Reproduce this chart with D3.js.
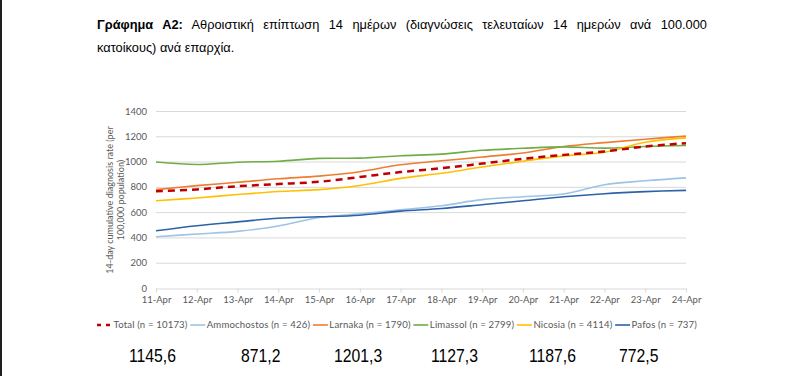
<!DOCTYPE html>
<html lang="el">
<head>
<meta charset="UTF-8">
<title>Γράφημα Α2</title>
<script src="https://d3js.org/d3.v7.min.js"></script>
<style>
  body { margin: 0; background: #fff; }
  svg { display: block; }
</style>
</head>
<body>
<svg width="801" height="376"></svg>
<script>
// dates on the x axis
const dates = ["11-Apr", "12-Apr", "13-Apr", "14-Apr", "15-Apr", "16-Apr", "17-Apr",
               "18-Apr", "19-Apr", "20-Apr", "21-Apr", "22-Apr", "23-Apr", "24-Apr"];

// 14-day cumulative rate per district
const total       = [765, 780, 805, 822, 840, 878, 917, 947, 984, 1022, 1053, 1080, 1119, 1145.6];
const ammochostos = [405, 427, 448, 491, 557, 587, 619, 651, 699, 722, 743, 817, 848, 871.2];
const larnaka     = [778, 810, 836, 864, 885, 920, 975, 1006, 1036, 1068, 1119, 1150, 1177, 1201.3];
const limassol    = [996, 977, 995, 1003, 1025, 1027, 1046, 1059, 1089, 1105, 1116, 1106, 1119, 1127.3];
const nicosia     = [690, 712, 739, 763, 778, 811, 867, 907, 957, 1003, 1045, 1074, 1153, 1187.6];
const pafos       = [453, 493, 523, 552, 563, 576, 608, 629, 659, 690, 722, 746, 762, 772.5];

const seriesNames = ["Total (n = 10173)", "Ammochostos (n = 426)", "Larnaka (n = 1790)",
                     "Limassol (n = 2799)", "Nicosia (n = 4114)", "Pafos (n = 737)"];
const yTicks = [0, 200, 400, 600, 800, 1000, 1200, 1400];
const lastValues = ["1145,6", "871,2", "1201,3", "1127,3", "1187,6", "772,5"];

const series = [
  { name: seriesNames[0], values: total,       color: "#C00000", width: 2.5, dash: "7,5" },
  { name: seriesNames[1], values: ammochostos, color: "#9DC3E6", width: 1.6 },
  { name: seriesNames[2], values: larnaka,     color: "#ED7D31", width: 1.6 },
  { name: seriesNames[3], values: limassol,    color: "#70AD47", width: 1.6 },
  { name: seriesNames[4], values: nicosia,     color: "#FFC000", width: 1.6 },
  { name: seriesNames[5], values: pafos,       color: "#2E62A8", width: 1.6 }
];

const svg = d3.select("svg");
const chartFont = "Lato, 'Open Sans', sans-serif";
const docFont = "'Liberation Sans', Arial, sans-serif";

// left page edge
svg.append("line")
  .attr("x1", 1).attr("x2", 1).attr("y1", 0).attr("y2", 376)
  .attr("stroke", "#1e1e1e").attr("stroke-width", 2);

// title, first line justified between the margins
const titleLeft = 97, titleRight = 707, squeeze = 0.95;
const t1 = svg.append("text")
  .attr("transform", `translate(${titleLeft},29) scale(${squeeze},1)`)
  .style("font-family", docFont).style("font-size", "13.5px").attr("fill", "#000");
t1.append("tspan").style("font-weight", "bold").text("Γράφημα Α2:");
t1.append("tspan").text(" Αθροιστική επίπτωση 14 ημέρων (διαγνώσεις τελευταίων 14 ημερών ανά 100.000");
const len1 = t1.node().getComputedTextLength();
t1.style("word-spacing", Math.max(0, ((titleRight - titleLeft) / squeeze - len1) / 11) + "px");

svg.append("text")
  .attr("transform", `translate(${titleLeft},52) scale(${squeeze},1)`)
  .style("font-family", docFont).style("font-size", "13.5px").attr("fill", "#000")
  .text("κατοίκους) ανά επαρχία.");

// scales
const x = d3.scalePoint().domain(dates).range([156, 686]);
const y = d3.scaleLinear().domain([0, 1400]).range([288, 111]);

// gridlines
svg.append("g")
  .selectAll("line")
  .data(yTicks.filter(d => d > 0))
  .join("line")
  .attr("x1", 156).attr("x2", 686)
  .attr("y1", d => y(d) + 0.5).attr("y2", d => y(d) + 0.5)
  .attr("stroke", "#D9D9D9").attr("stroke-width", 1);

// y axis labels
const yAxis = svg.append("g")
  .attr("transform", "translate(156,0)")
  .call(d3.axisLeft(y).tickValues(yTicks).tickFormat(d3.format("d")).tickSize(0).tickPadding(9));
yAxis.select(".domain").remove();
yAxis.selectAll("text")
  .style("font-family", chartFont).style("font-size", "9.5px").attr("fill", "#595959");

// x axis
const xAxis = svg.append("g")
  .attr("transform", "translate(0,288.5)")
  .call(d3.axisBottom(x).tickSize(4).tickPadding(4).tickSizeOuter(0));
xAxis.select(".domain").attr("stroke", "#D9D9D9");
xAxis.selectAll(".tick line").attr("stroke", "#D9D9D9");
xAxis.selectAll("text")
  .style("font-family", chartFont).style("font-size", "9.5px").attr("fill", "#595959");

// y axis title
const yTitle = svg.append("text")
  .attr("transform", "translate(113,200) rotate(-90)")
  .attr("text-anchor", "middle")
  .style("font-family", chartFont).style("font-size", "9px").attr("fill", "#595959");
yTitle.append("tspan").attr("x", 0).attr("dy", 0).text("14-day cumulative diagnosis rate (per");
yTitle.append("tspan").attr("x", 0).attr("dy", 11).text("100,000 population)");

// lines
const line = d3.line()
  .x((d, i) => x(dates[i]))
  .y(d => y(d))
  .curve(d3.curveCatmullRom.alpha(0.5));

const drawOrder = [1, 2, 3, 4, 5, 0];
svg.append("g")
  .selectAll("path")
  .data(drawOrder.map(i => series[i]))
  .join("path")
  .attr("d", d => line(d.values))
  .attr("fill", "none")
  .attr("stroke", d => d.color)
  .attr("stroke-width", d => d.width)
  .attr("stroke-dasharray", d => d.dash || null)
  .attr("stroke-linejoin", "round");

// legend, laid out left to right and spread over 97..697
const legendLeft = 97, legendRight = 697, sampleLen = 15;
const legend = svg.append("g").attr("transform", "translate(0,325)");
const items = series.map(s => {
  const g = legend.append("g");
  g.append("line")
    .attr("x1", 0).attr("x2", sampleLen).attr("y1", 0).attr("y2", 0)
    .attr("stroke", s.color).attr("stroke-width", s.width)
    .attr("stroke-dasharray", s.dash ? "4,5" : null);
  const t = g.append("text")
    .attr("x", sampleLen + 1.5).attr("y", 3.3)
    .style("font-family", chartFont).style("font-size", "9.6px").attr("fill", "#595959")
    .style("letter-spacing", "0.15px")
    .text(s.name);
  return { g, w: sampleLen + 1.5 + t.node().getComputedTextLength() };
});
const gap = (legendRight - legendLeft - d3.sum(items, d => d.w)) / (items.length - 1);
let lx = legendLeft;
items.forEach(it => {
  it.g.attr("transform", `translate(${lx},0)`);
  lx += it.w + gap;
});

// final values under the legend
const valueX = [129, 241, 334, 431, 529, 619];
svg.append("g")
  .selectAll("text")
  .data(lastValues)
  .join("text")
  .attr("transform", (d, i) => `translate(${valueX[i]},362) scale(0.83,1)`)
  .style("font-family", docFont).style("font-size", "19px").attr("fill", "#000")
  .text(d => d);
</script>
</body>
</html>
